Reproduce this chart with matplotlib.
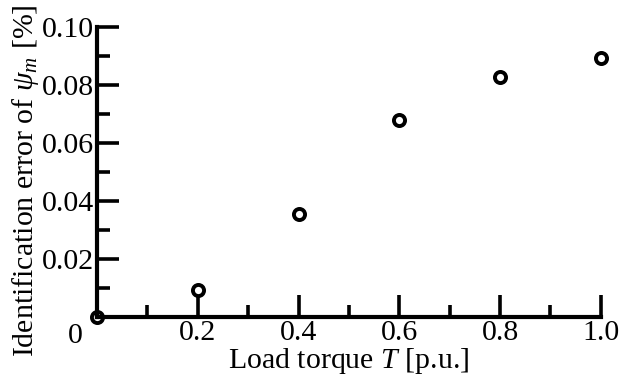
import matplotlib
matplotlib.use("Agg")
import matplotlib.pyplot as plt
from matplotlib.ticker import MultipleLocator, FixedLocator

torque = [0.0, 0.2, 0.4, 0.6, 0.8, 1.0]
error = [0.0, 0.0093, 0.0355, 0.068, 0.0828, 0.0893]
xticks = [0.2, 0.4, 0.6, 0.8, 1.0]
xticklabels = ["0.2", "0.4", "0.6", "0.8", "1.0"]
yticks = [0.02, 0.04, 0.06, 0.08, 0.10]
yticklabels = ["0.02", "0.04", "0.06", "0.08", "0.10"]

plt.rcParams['font.family'] = ['Liberation Serif', 'DejaVu Serif']
plt.rcParams['mathtext.fontset'] = 'custom'
plt.rcParams['mathtext.rm'] = 'Liberation Serif'
plt.rcParams['mathtext.it'] = 'Liberation Serif:italic'

FS = 21.5
fig = plt.figure(figsize=(6.22, 3.81), dpi=100)
ax = fig.add_axes([0.156, 0.168, 0.81, 0.761])
ax.plot(torque, error, linestyle='none', marker='o', markersize=8,
        markerfacecolor='white', markeredgecolor='black', markeredgewidth=2.8,
        clip_on=False, zorder=2)
ax.set_xlim(0, 1.0)
ax.set_ylim(0, 0.10)
for s in ['top', 'right']:
    ax.spines[s].set_visible(False)
for s in ['left', 'bottom']:
    ax.spines[s].set_linewidth(3)
    ax.spines[s].set_zorder(3)
ax.xaxis.set_major_locator(FixedLocator(xticks))
ax.set_xticklabels(xticklabels)
ax.yaxis.set_major_locator(FixedLocator(yticks))
ax.set_yticklabels(yticklabels)
ax.xaxis.set_minor_locator(MultipleLocator(0.1))
ax.yaxis.set_minor_locator(MultipleLocator(0.01))
ax.tick_params(which='major', direction='in', length=16, width=2.6, labelsize=FS, pad=2)
ax.tick_params(which='minor', direction='in', length=9, width=2.6)
ax.tick_params(axis='y', which='major', pad=2)
ax.text(-0.028, -0.002, "0", ha='right', va='top', fontsize=FS, transform=ax.transData, clip_on=False)
ax.set_xlabel("Load torque $T$ [p.u.]", fontsize=FS, labelpad=0)
ax.set_ylabel("Identification error of $\\psi_m$ [%]", fontsize=FS)
ax.yaxis.set_label_coords(-0.112, 0.47)
fig.savefig("out.png", dpi=100)
